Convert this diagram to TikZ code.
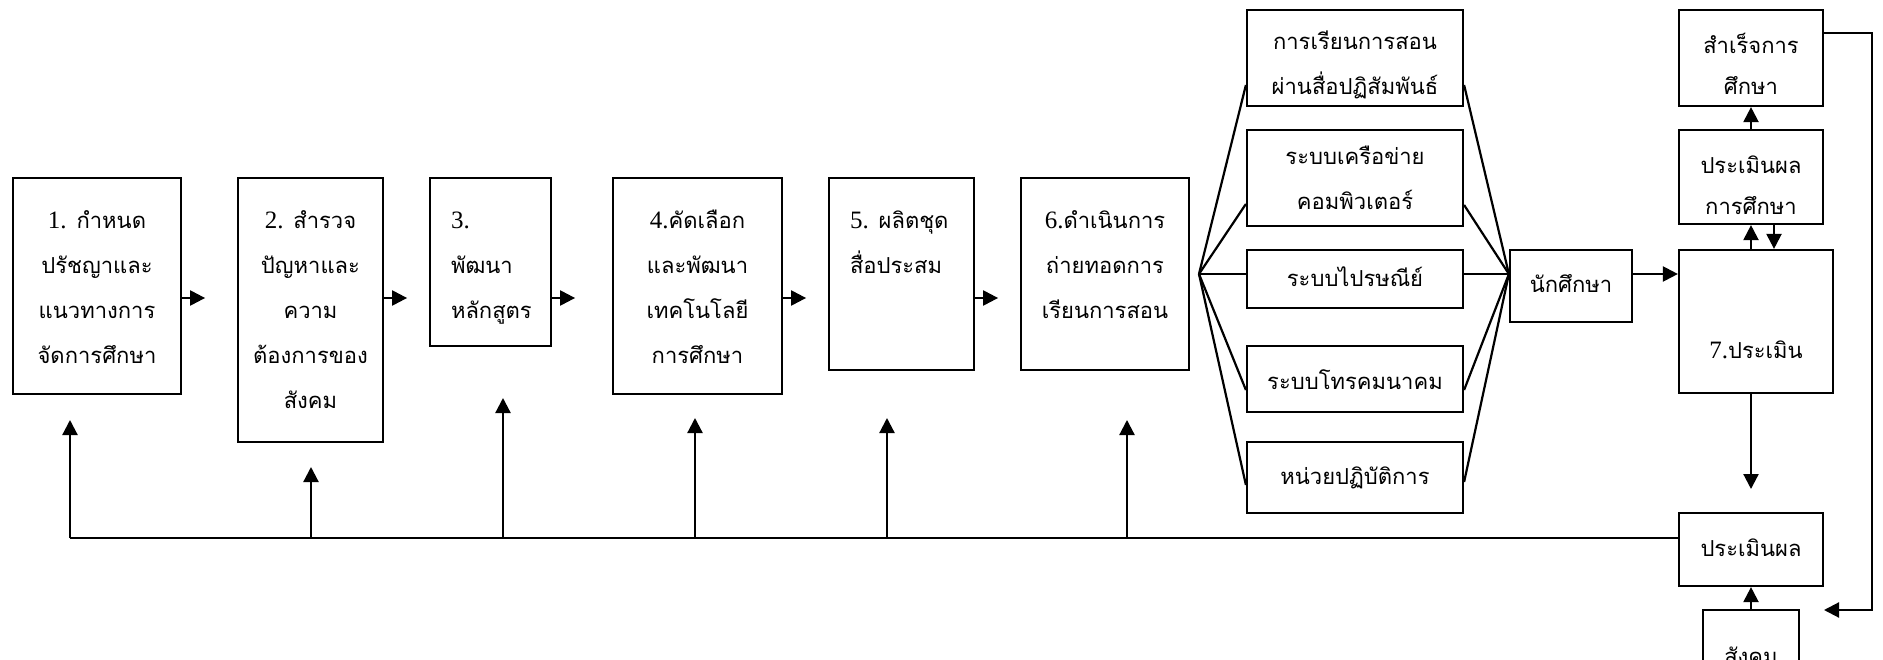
\documentclass[tikz,border=0pt]{standalone}
\usepackage{fontspec}
\setmainfont{Liberation Serif}
\newfontfamily\thfont[Script=Thai]{Loma}
\usetikzlibrary{arrows.meta}
\newcommand{\nm}[1]{{\rmfamily\fontsize{25}{45}\selectfont #1}}
% width, height, alignment, top space, content
\newcommand{\tbox}[5]{\parbox[c][#2][t]{#1}{#3\par\vspace*{#4}\rule{0pt}{30pt}#5}}
\newcommand{\cen}{\centering\baselineskip=45pt\relax}
\newcommand{\lft}{\raggedright\leftskip=21pt\baselineskip=45pt\relax}
\begin{document}
\begin{tikzpicture}[x=1pt,y=-1pt,
  box/.style={draw, line width=2.2pt, inner sep=0pt, font=\thfont\fontsize{22}{45}\selectfont},
  ln/.style={line width=2.2pt},
  arr/.style={line width=2.2pt, -{Triangle[length=15pt,width=15pt]}}]
\useasboundingbox (0,0) rectangle (1883,660);
\clip (0,0) rectangle (1883,660);
\fill[white] (0,0) rectangle (1883,660);

% main chain
\node[box] (b1) at (97,286) {\tbox{168pt}{216pt}{\cen}{21pt}{\nm{1.} กำหนด\\ปรัชญาและ\\แนวทางการ\\จัดการศึกษา}};
\node[box] (b2) at (310.5,310) {\tbox{145pt}{264pt}{\cen}{21pt}{\nm{2.} สำรวจ\\ปัญหาและ\\ความ\\ต้องการของ\\สังคม}};
\node[box] (b3) at (490.5,262) {\tbox{121pt}{168pt}{\lft}{21pt}{\nm{3.}\\พัฒนา\\หลักสูตร}};
\node[box] (b4) at (697.5,286) {\tbox{169pt}{216pt}{\cen}{21pt}{\nm{4.}คัดเลือก\\และพัฒนา\\เทคโนโลยี\\การศึกษา}};
\node[box] (b5) at (901.5,274) {\tbox{145pt}{192pt}{\lft}{21pt}{\nm{5.} ผลิตชุด\\สื่อประสม}};
\node[box] (b6) at (1105,274) {\tbox{168pt}{192pt}{\cen}{21pt}{\nm{6.}ดำเนินการ\\ถ่ายทอดการ\\เรียนการสอน}};

% media boxes
\node[box] (m1) at (1355,58) {\tbox{216pt}{96pt}{\cen}{10pt}{การเรียนการสอน\\ผ่านสื่อปฏิสัมพันธ์}};
\node[box] (m2) at (1355,178) {\tbox{216pt}{96pt}{\cen}{5pt}{ระบบเครือข่าย\\คอมพิวเตอร์}};
\node[box] (m3) at (1355,279) {\tbox{216pt}{58pt}{\cen}{7pt}{ระบบไปรษณีย์}};
\node[box] (m4) at (1355,379) {\tbox{216pt}{66pt}{\cen}{13pt}{ระบบโทรคมนาคม}};
\node[box] (m5) at (1355,477.5) {\tbox{216pt}{71pt}{\cen}{12pt}{หน่วยปฏิบัติการ}};

% right part
\node[box] (st) at (1571,286) {\tbox{122pt}{72pt}{\cen}{13pt}{นักศึกษา}};
\node[box] (b7) at (1756,321.5) {\tbox{154pt}{143pt}{\cen}{79pt}{\nm{7.}ประเมิน}};
\node[box] (sj) at (1751,58) {\tbox{144pt}{96pt}{\centering\baselineskip=41pt\relax}{14pt}{สำเร็จการ\\ศึกษา}};
\node[box] (pe1) at (1751,177) {\tbox{144pt}{94pt}{\centering\baselineskip=41pt\relax}{14pt}{ประเมินผล\\การศึกษา}};
\node[box] (pe) at (1751,549.5) {\tbox{144pt}{73pt}{\cen}{13pt}{ประเมินผล}};
\node[box] (sk) at (1751,650) {\tbox{96pt}{80pt}{\cen}{24pt}{สังคม}};

% chain arrows
\draw[arr] (b1.east |- 0,298) -- ++(23,0);
\draw[arr] (b2.east |- 0,298) -- ++(23,0);
\draw[arr] (b3.east |- 0,298) -- ++(23,0);
\draw[arr] (b4.east |- 0,298) -- ++(23,0);
\draw[arr] (b5.east |- 0,298) -- ++(23,0);

% fan
\coordinate (F1) at (1199,274);
\coordinate (F2) at (st.west |- 0,274);
\draw[ln] (F1) -- (m1.west |- 0,85);
\draw[ln] (F1) -- (m2.west |- 0,204);
\draw[ln] (F1) -- (m3.west |- 0,274);
\draw[ln] (F1) -- (m4.west |- 0,390);
\draw[ln] (F1) -- (m5.west |- 0,485);
\draw[ln] (m1.east |- 0,85) -- (F2);
\draw[ln] (m2.east |- 0,205) -- (F2);
\draw[ln] (m3.east |- 0,274) -- (F2);
\draw[ln] (m4.east |- 0,390) -- (F2);
\draw[ln] (m5.east |- 0,482) -- (F2);

% right side arrows
\draw[arr] (st.east |- F2) -- (b7.west |- F2);
\draw[arr] (pe1.north) -- (sj.south);
\draw[arr] (pe1.south |- b7.north) -- (pe1.south);
\draw[arr] ([xshift=23pt]pe1.south) -- ([xshift=23pt]pe1.south |- b7.north);
\coordinate (t7) at (1751,489);
\draw[arr] (b7.south -| t7) -- (t7);
\draw[arr] (sk.north) -- (pe.south);
\coordinate (r1) at (1872,33);
\coordinate (r2) at (1872,610);
\coordinate (r3) at (1824,610);
\draw[arr] (sj.east |- r1) -- (r1) -- (r2) -- (r3);

% feedback line
\coordinate (f1) at (70,538);
\coordinate (f2) at (311,538);
\coordinate (f3) at (503,538);
\coordinate (f4) at (695,538);
\coordinate (f5) at (887,538);
\coordinate (f6) at (1127,538);
\draw[ln] (pe.west |- f1) -- (f1);
\draw[arr] (f1) -- (70,420);
\draw[arr] (f2) -- (311,467);
\draw[arr] (f3) -- (503,398);
\draw[arr] (f4) -- (695,418);
\draw[arr] (f5) -- (887,418);
\draw[arr] (f6) -- (1127,420);
\end{tikzpicture}
\end{document}
